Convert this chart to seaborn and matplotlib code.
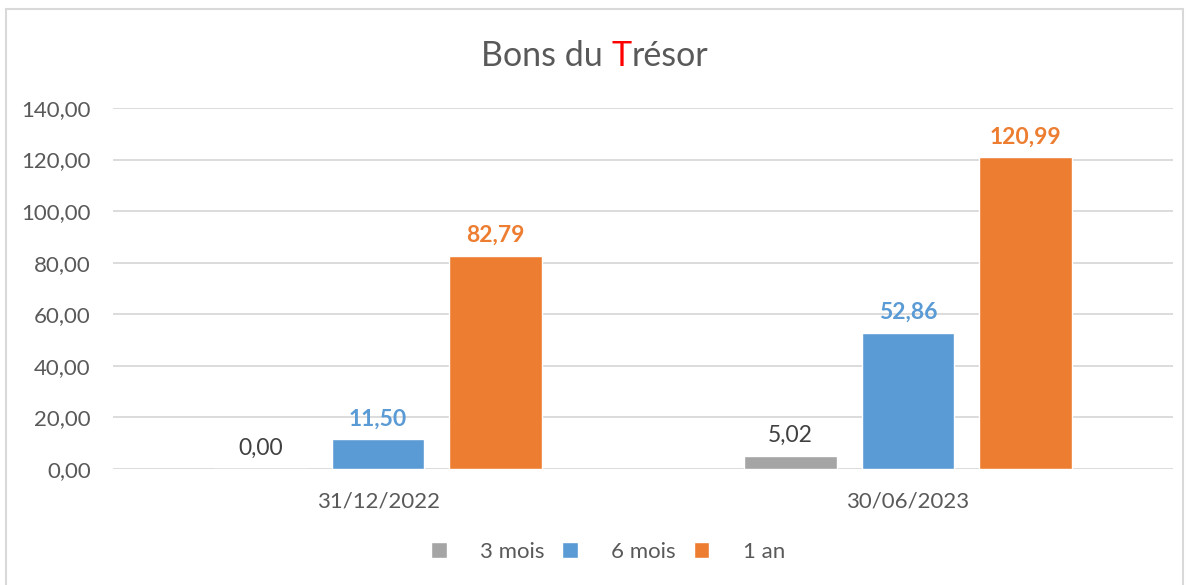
import pandas as pd
import matplotlib.pyplot as plt
import seaborn as sns
from matplotlib.patches import Rectangle

# Data
dates = ["31/12/2022", "30/06/2023"]
maturities = ["3 mois", "6 mois", "1 an"]
val_3m = [0.00, 5.02]
val_6m = [11.50, 52.86]
val_1a = [82.79, 120.99]

df = pd.DataFrame({
    "Date": dates * 3,
    "Maturite": [m for m in maturities for _ in dates],
    "Valeur": val_3m + val_6m + val_1a,
})

colors = {"3 mois": "#A5A5A5", "6 mois": "#5B9BD5", "1 an": "#ED7D31"}
label_colors = ["#404040", "#5B9BD5", "#ED7D31"]
label_weights = ["normal", "bold", "bold"]
text_gray = "#595959"

sns.set_theme(style="white")
plt.rcParams["font.family"] = ["Lato", "DejaVu Sans"]

fig = plt.figure(figsize=(11.9, 5.85), dpi=100)
ax = fig.add_axes([0.095, 0.1983, 0.8907, 0.6171])

sns.barplot(
    data=df, x="Date", y="Valeur", hue="Maturite",
    hue_order=maturities, order=dates, palette=colors, saturation=1,
    width=0.665, gap=0.21, errorbar=None, ax=ax, legend=True,
)

ax.set_ylim(0, 140)
ax.set_yticks(range(0, 141, 20))
ax.set_yticklabels([f"{v},00" for v in range(0, 141, 20)])
ax.set_xlabel("")
ax.set_ylabel("")
ax.grid(axis="y", color="#D9D9D9", linewidth=1.3)
ax.set_axisbelow(True)
for s in ["left", "right", "top", "bottom"]:
    ax.spines[s].set_visible(False)
ax.tick_params(axis="both", length=0, labelsize=16, colors=text_gray)
ax.tick_params(axis="x", pad=16)
ax.tick_params(axis="y", pad=16)

for cont, col, w in zip(ax.containers, label_colors, label_weights):
    labs = [f"{b.get_height():.2f}".replace(".", ",") for b in cont]
    ax.bar_label(cont, labels=labs, padding=7, color=col, fontsize=16.5, fontweight=w)

leg = ax.legend(
    loc="center", bbox_to_anchor=(0.467, -0.23), ncol=3, frameon=False,
    fontsize=16, handlelength=0.7, handleheight=0.7, columnspacing=0.8,
    handletextpad=1.5,
)
for t in leg.get_texts():
    t.set_color(text_gray)

# Title with red "T"
parts = [("Bons du ", text_gray), ("T", "#FF0000"), ("résor", text_gray)]
fig.canvas.draw()
r = fig.canvas.get_renderer()
texts = [fig.text(0, 0.905, s, fontsize=24.5, color=c, va="center") for s, c in parts]
widths = [t.get_window_extent(renderer=r).width for t in texts]
x = (fig.bbox.width - sum(widths)) / 2
for t, w in zip(texts, widths):
    t.set_x(x / fig.bbox.width)
    x += w

fig.patches.append(Rectangle((6 / 1190, -0.01), 1177 / 1190, 1 - 9 / 585 + 0.01,
                             transform=fig.transFigure, fill=False,
                             edgecolor="#D9D9D9", linewidth=1.5))

fig.savefig("out.png", dpi=100, facecolor="white")
